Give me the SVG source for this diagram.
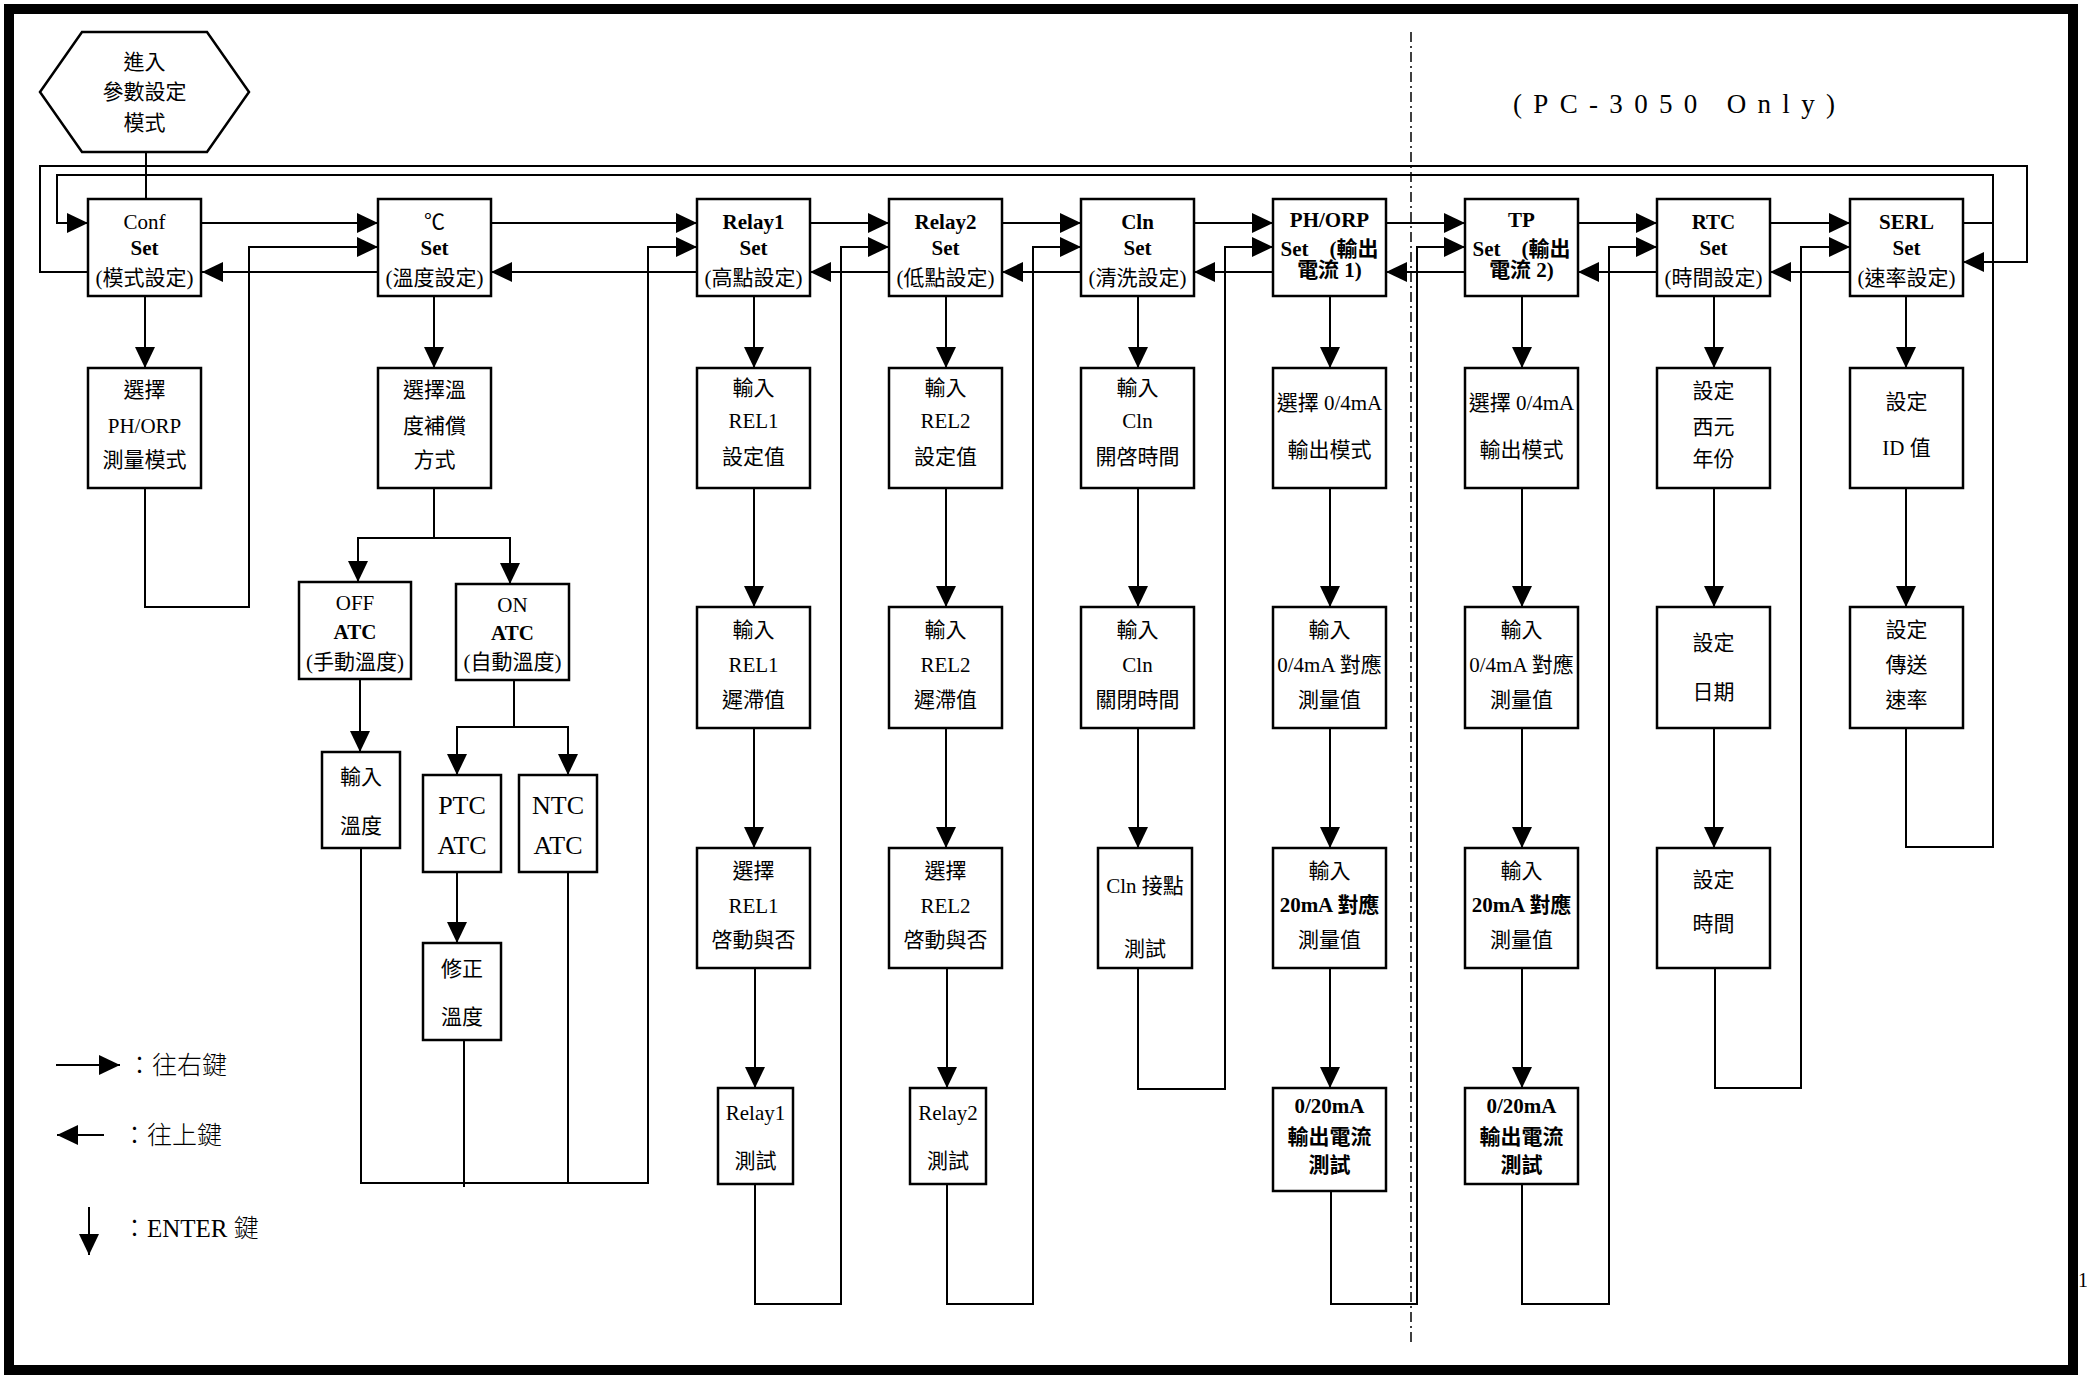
<svg xmlns="http://www.w3.org/2000/svg" width="2087" height="1375" viewBox="0 0 2087 1375">
<style>
.bx{fill:#fff;stroke:#000;stroke-width:2.5}
.c{fill:none;stroke:#000;stroke-width:2}
.a{marker-end:url(#ah)}
.t{font-family:"Liberation Serif","Noto Sans CJK TC",serif;font-size:21px;text-anchor:middle;fill:#000}
.b{font-weight:bold}
.big{font-size:26px}
.lg{font-family:"Liberation Serif","Noto Sans CJK TC",serif;font-size:25px;fill:#000;font-weight:300}
</style>
<defs>
<marker id="ah" markerUnits="userSpaceOnUse" markerWidth="21" markerHeight="20" refX="21" refY="10" orient="auto" viewBox="0 0 21 20"><path d="M0,0 L21,10 L0,20 z" fill="#000"/></marker>
</defs>
<rect x="0" y="0" width="2087" height="1375" fill="#fff"/>
<rect x="9" y="9" width="2064" height="1361" fill="none" stroke="#000" stroke-width="10"/>

<g id="connectors">
<line class="c" x1="146" y1="152" x2="146" y2="199"/>
<!-- right arrows -->
<line class="c a" x1="202" y1="223" x2="378" y2="223"/>
<line class="c a" x1="491" y1="223" x2="697" y2="223"/>
<line class="c a" x1="810" y1="223" x2="889" y2="223"/>
<line class="c a" x1="1002" y1="223" x2="1081" y2="223"/>
<line class="c a" x1="1194" y1="223" x2="1273" y2="223"/>
<line class="c a" x1="1386" y1="223" x2="1465" y2="223"/>
<line class="c a" x1="1578" y1="223" x2="1657" y2="223"/>
<line class="c a" x1="1770" y1="223" x2="1850" y2="223"/>
<!-- left arrows -->
<line class="c a" x1="378" y1="272" x2="202" y2="272"/>
<line class="c a" x1="697" y1="272" x2="491" y2="272"/>
<line class="c a" x1="889" y1="272" x2="810" y2="272"/>
<line class="c a" x1="1081" y1="272" x2="1002" y2="272"/>
<line class="c a" x1="1273" y1="272" x2="1194" y2="272"/>
<line class="c a" x1="1465" y1="272" x2="1386" y2="272"/>
<line class="c a" x1="1657" y1="272" x2="1578" y2="272"/>
<line class="c a" x1="1850" y1="272" x2="1770" y2="272"/>
<!-- outer loops -->
<polyline class="c a" points="88,272 40,272 40,166 2027,166 2027,262 1963,262"/>
<polyline class="c a" points="1906,728 1906,847 1993,847 1993,175 57,175 57,223 88,223"/>
<line class="c" x1="1963" y1="223" x2="1993" y2="223"/>
<!-- down arrows row1->row2 -->
<line class="c a" x1="145" y1="296" x2="145" y2="368"/>
<line class="c a" x1="434" y1="296" x2="434" y2="368"/>
<line class="c a" x1="754" y1="296" x2="754" y2="368"/>
<line class="c a" x1="946" y1="296" x2="946" y2="368"/>
<line class="c a" x1="1138" y1="296" x2="1138" y2="368"/>
<line class="c a" x1="1330" y1="296" x2="1330" y2="368"/>
<line class="c a" x1="1522" y1="296" x2="1522" y2="368"/>
<line class="c a" x1="1714" y1="296" x2="1714" y2="368"/>
<line class="c a" x1="1906" y1="296" x2="1906" y2="368"/>
<!-- row2->row3 -->
<line class="c a" x1="754" y1="488" x2="754" y2="607"/>
<line class="c a" x1="946" y1="488" x2="946" y2="607"/>
<line class="c a" x1="1138" y1="488" x2="1138" y2="607"/>
<line class="c a" x1="1330" y1="488" x2="1330" y2="607"/>
<line class="c a" x1="1522" y1="488" x2="1522" y2="607"/>
<line class="c a" x1="1714" y1="488" x2="1714" y2="607"/>
<line class="c a" x1="1906" y1="488" x2="1906" y2="607"/>
<!-- row3->row4 -->
<line class="c a" x1="754" y1="728" x2="754" y2="848"/>
<line class="c a" x1="946" y1="728" x2="946" y2="848"/>
<line class="c a" x1="1138" y1="728" x2="1138" y2="848"/>
<line class="c a" x1="1330" y1="728" x2="1330" y2="848"/>
<line class="c a" x1="1522" y1="728" x2="1522" y2="848"/>
<line class="c a" x1="1714" y1="728" x2="1714" y2="848"/>
<!-- row4->row5 -->
<line class="c a" x1="755" y1="968" x2="755" y2="1088"/>
<line class="c a" x1="947" y1="968" x2="947" y2="1088"/>
<line class="c a" x1="1330" y1="968" x2="1330" y2="1088"/>
<line class="c a" x1="1522" y1="968" x2="1522" y2="1088"/>
<!-- return loops -->
<polyline class="c a" points="145,488 145,607 249,607 249,247 378,247"/>
<polyline class="c a" points="361,848 361,1183 648,1183 648,247 697,247"/>
<line class="c" x1="464" y1="1040" x2="464" y2="1187"/>
<line class="c" x1="568" y1="872" x2="568" y2="1183"/>
<polyline class="c a" points="755,1184 755,1304 841,1304 841,247 889,247"/>
<polyline class="c a" points="947,1184 947,1304 1033,1304 1033,247 1081,247"/>
<polyline class="c a" points="1138,968 1138,1089 1225,1089 1225,247 1273,247"/>
<polyline class="c a" points="1331,1191 1331,1304 1417,1304 1417,247 1465,247"/>
<polyline class="c a" points="1522,1184 1522,1304 1609,1304 1609,247 1657,247"/>
<polyline class="c a" points="1715,968 1715,1088 1801,1088 1801,247 1850,247"/>
<!-- temperature subtree -->
<line class="c" x1="434" y1="488" x2="434" y2="538"/>
<polyline class="c a" points="434,538 358,538 358,582"/>
<polyline class="c a" points="434,538 510,538 510,584"/>
<line class="c a" x1="360" y1="679" x2="360" y2="752"/>
<line class="c" x1="514" y1="680" x2="514" y2="727"/>
<polyline class="c a" points="514,727 457,727 457,775"/>
<polyline class="c a" points="514,727 568,727 568,775"/>
<line class="c a" x1="457" y1="872" x2="457" y2="943"/>
</g>

<g id="divider">
<line x1="1411" y1="32" x2="1411" y2="1345" stroke="#000" stroke-width="1.5" stroke-dasharray="10 4 2 4"/>
<text x="1513" y="113" font-family="Liberation Serif, serif" font-size="27" textLength="322" lengthAdjust="spacing">(PC-3050 Only)</text>
</g>

<g id="enter">
<polygon class="bx" points="40,92 82,32 207,32 249,92 207,152 82,152"/>
<text class="t" x="144.5" y="69">進入</text>
<text class="t" x="144.5" y="99">參數設定</text>
<text class="t" x="144.5" y="130">模式</text>
</g>

<g id="conf"><rect class="bx" x="88" y="199" width="113" height="97"/>
<text class="t" x="144.5" y="229">Conf</text><text class="t b" x="144.5" y="255">Set</text><text class="t" x="144.5" y="285">(模式設定)</text></g>
<g id="temp"><rect class="bx" x="378" y="199" width="113" height="97"/>
<text class="t" x="434.5" y="229">℃</text><text class="t b" x="434.5" y="255">Set</text><text class="t" x="434.5" y="285">(溫度設定)</text></g>
<g id="relay1"><rect class="bx" x="697" y="199" width="113" height="97"/>
<text class="t b" x="753.5" y="229">Relay1</text><text class="t b" x="753.5" y="255">Set</text><text class="t" x="753.5" y="285">(高點設定)</text></g>
<g id="relay2"><rect class="bx" x="889" y="199" width="113" height="97"/>
<text class="t b" x="945.5" y="229">Relay2</text><text class="t b" x="945.5" y="255">Set</text><text class="t" x="945.5" y="285">(低點設定)</text></g>
<g id="cln"><rect class="bx" x="1081" y="199" width="113" height="97"/>
<text class="t b" x="1137.5" y="229">Cln</text><text class="t b" x="1137.5" y="255">Set</text><text class="t" x="1137.5" y="285">(清洗設定)</text></g>
<g id="phorp"><rect class="bx" x="1273" y="199" width="113" height="97"/>
<text class="t b" x="1329.5" y="227">PH/ORP</text><text class="t b" x="1329.5" y="256">Set　(輸出</text><text class="t b" x="1329.5" y="277">電流 1)</text></g>
<g id="tp"><rect class="bx" x="1465" y="199" width="113" height="97"/>
<text class="t b" x="1521.5" y="227">TP</text><text class="t b" x="1521.5" y="256">Set　(輸出</text><text class="t b" x="1521.5" y="277">電流 2)</text></g>
<g id="rtc"><rect class="bx" x="1657" y="199" width="113" height="97"/>
<text class="t b" x="1713.5" y="229">RTC</text><text class="t b" x="1713.5" y="255">Set</text><text class="t" x="1713.5" y="285">(時間設定)</text></g>
<g id="serl"><rect class="bx" x="1850" y="199" width="113" height="97"/>
<text class="t b" x="1906.5" y="229">SERL</text><text class="t b" x="1906.5" y="255">Set</text><text class="t" x="1906.5" y="285">(速率設定)</text></g>

<g id="conf-mode"><rect class="bx" x="88" y="368" width="113" height="120"/>
<text class="t" x="144.5" y="397">選擇</text><text class="t" x="144.5" y="433">PH/ORP</text><text class="t" x="144.5" y="467">測量模式</text></g>
<g id="temp-mode"><rect class="bx" x="378" y="368" width="113" height="120"/>
<text class="t" x="434.5" y="397">選擇溫</text><text class="t" x="434.5" y="433">度補償</text><text class="t" x="434.5" y="467">方式</text></g>
<g id="relay1-set"><rect class="bx" x="697" y="368" width="113" height="120"/>
<text class="t" x="753.5" y="395">輸入</text><text class="t" x="753.5" y="428">REL1</text><text class="t" x="753.5" y="464">設定值</text></g>
<g id="relay2-set"><rect class="bx" x="889" y="368" width="113" height="120"/>
<text class="t" x="945.5" y="395">輸入</text><text class="t" x="945.5" y="428">REL2</text><text class="t" x="945.5" y="464">設定值</text></g>
<g id="cln-on"><rect class="bx" x="1081" y="368" width="113" height="120"/>
<text class="t" x="1137.5" y="395">輸入</text><text class="t" x="1137.5" y="428">Cln</text><text class="t" x="1137.5" y="464">開啓時間</text></g>
<g id="ph-mode"><rect class="bx" x="1273" y="368" width="113" height="120"/>
<text class="t" x="1329.5" y="410">選擇 0/4mA</text><text class="t" x="1329.5" y="457">輸出模式</text></g>
<g id="tp-mode"><rect class="bx" x="1465" y="368" width="113" height="120"/>
<text class="t" x="1521.5" y="410">選擇 0/4mA</text><text class="t" x="1521.5" y="457">輸出模式</text></g>
<g id="rtc-year"><rect class="bx" x="1657" y="368" width="113" height="120"/>
<text class="t" x="1713.5" y="398">設定</text><text class="t" x="1713.5" y="434">西元</text><text class="t" x="1713.5" y="466">年份</text></g>
<g id="serl-id"><rect class="bx" x="1850" y="368" width="113" height="120"/>
<text class="t" x="1906.5" y="409">設定</text><text class="t" x="1906.5" y="455">ID 值</text></g>

<g id="relay1-hys"><rect class="bx" x="697" y="607" width="113" height="121"/>
<text class="t" x="753.5" y="637">輸入</text><text class="t" x="753.5" y="672">REL1</text><text class="t" x="753.5" y="707">遲滯值</text></g>
<g id="relay2-hys"><rect class="bx" x="889" y="607" width="113" height="121"/>
<text class="t" x="945.5" y="637">輸入</text><text class="t" x="945.5" y="672">REL2</text><text class="t" x="945.5" y="707">遲滯值</text></g>
<g id="cln-off"><rect class="bx" x="1081" y="607" width="113" height="121"/>
<text class="t" x="1137.5" y="637">輸入</text><text class="t" x="1137.5" y="672">Cln</text><text class="t" x="1137.5" y="707">關閉時間</text></g>
<g id="ph-4ma"><rect class="bx" x="1273" y="607" width="113" height="121"/>
<text class="t" x="1329.5" y="637">輸入</text><text class="t" x="1329.5" y="672">0/4mA 對應</text><text class="t" x="1329.5" y="707">測量值</text></g>
<g id="tp-4ma"><rect class="bx" x="1465" y="607" width="113" height="121"/>
<text class="t" x="1521.5" y="637">輸入</text><text class="t" x="1521.5" y="672">0/4mA 對應</text><text class="t" x="1521.5" y="707">測量值</text></g>
<g id="rtc-date"><rect class="bx" x="1657" y="607" width="113" height="121"/>
<text class="t" x="1713.5" y="650">設定</text><text class="t" x="1713.5" y="699">日期</text></g>
<g id="serl-baud"><rect class="bx" x="1850" y="607" width="113" height="121"/>
<text class="t" x="1906.5" y="637">設定</text><text class="t" x="1906.5" y="672">傳送</text><text class="t" x="1906.5" y="707">速率</text></g>

<g id="relay1-en"><rect class="bx" x="697" y="848" width="113" height="120"/>
<text class="t" x="753.5" y="878">選擇</text><text class="t" x="753.5" y="913">REL1</text><text class="t" x="753.5" y="947">啓動與否</text></g>
<g id="relay2-en"><rect class="bx" x="889" y="848" width="113" height="120"/>
<text class="t" x="945.5" y="878">選擇</text><text class="t" x="945.5" y="913">REL2</text><text class="t" x="945.5" y="947">啓動與否</text></g>
<g id="cln-test"><rect class="bx" x="1098" y="848" width="94" height="120"/>
<text class="t" x="1145" y="893">Cln 接點</text><text class="t" x="1145" y="956">測試</text></g>
<g id="ph-20ma"><rect class="bx" x="1273" y="848" width="113" height="120"/>
<text class="t" x="1329.5" y="878">輸入</text><text class="t b" x="1329.5" y="912">20mA 對應</text><text class="t" x="1329.5" y="947">測量值</text></g>
<g id="tp-20ma"><rect class="bx" x="1465" y="848" width="113" height="120"/>
<text class="t" x="1521.5" y="878">輸入</text><text class="t b" x="1521.5" y="912">20mA 對應</text><text class="t" x="1521.5" y="947">測量值</text></g>
<g id="rtc-time"><rect class="bx" x="1657" y="848" width="113" height="120"/>
<text class="t" x="1713.5" y="887">設定</text><text class="t" x="1713.5" y="931">時間</text></g>

<g id="relay1-test"><rect class="bx" x="718" y="1088" width="75" height="96"/>
<text class="t" x="755.5" y="1120">Relay1</text><text class="t" x="755.5" y="1168">測試</text></g>
<g id="relay2-test"><rect class="bx" x="910" y="1088" width="76" height="96"/>
<text class="t" x="948" y="1120">Relay2</text><text class="t" x="948" y="1168">測試</text></g>
<g id="ph-test"><rect class="bx" x="1273" y="1088" width="113" height="103"/>
<text class="t b" x="1329.5" y="1113">0/20mA</text><text class="t b" x="1329.5" y="1144">輸出電流</text><text class="t b" x="1329.5" y="1172">測試</text></g>
<g id="tp-test"><rect class="bx" x="1465" y="1088" width="113" height="96"/>
<text class="t b" x="1521.5" y="1113">0/20mA</text><text class="t b" x="1521.5" y="1144">輸出電流</text><text class="t b" x="1521.5" y="1172">測試</text></g>

<g id="off-atc"><rect class="bx" x="299" y="582" width="112" height="97"/>
<text class="t" x="355" y="610">OFF</text><text class="t b" x="355" y="639">ATC</text><text class="t" x="355" y="669">(手動溫度)</text></g>
<g id="on-atc"><rect class="bx" x="456" y="584" width="113" height="96"/>
<text class="t" x="512.5" y="612">ON</text><text class="t b" x="512.5" y="640">ATC</text><text class="t" x="512.5" y="669">(自動溫度)</text></g>
<g id="temp-input"><rect class="bx" x="322" y="752" width="78" height="96"/>
<text class="t" x="361" y="784">輸入</text><text class="t" x="361" y="833">溫度</text></g>
<g id="ptc-atc"><rect class="bx" x="423" y="775" width="78" height="97"/>
<text class="t big" x="462" y="814">PTC</text><text class="t big" x="462" y="854">ATC</text></g>
<g id="ntc-atc"><rect class="bx" x="519" y="775" width="78" height="97"/>
<text class="t big" x="558" y="814">NTC</text><text class="t big" x="558" y="854">ATC</text></g>
<g id="temp-fix"><rect class="bx" x="423" y="943" width="78" height="97"/>
<text class="t" x="462" y="976">修正</text><text class="t" x="462" y="1024">溫度</text></g>

<g id="legend">
<line class="c a" x1="56" y1="1065" x2="120" y2="1065"/>
<text class="lg" x="127" y="1074">：往右鍵</text>
<line class="c a" x1="104" y1="1135" x2="57" y2="1135"/>
<text class="lg" x="122" y="1144">：往上鍵</text>
<line class="c a" x1="89" y1="1207" x2="89" y2="1255"/>
<text class="lg" x="122" y="1237">：ENTER 鍵</text>
</g>
<text x="2078" y="1287" font-family="Liberation Serif, serif" font-size="20">1</text>
</svg>
